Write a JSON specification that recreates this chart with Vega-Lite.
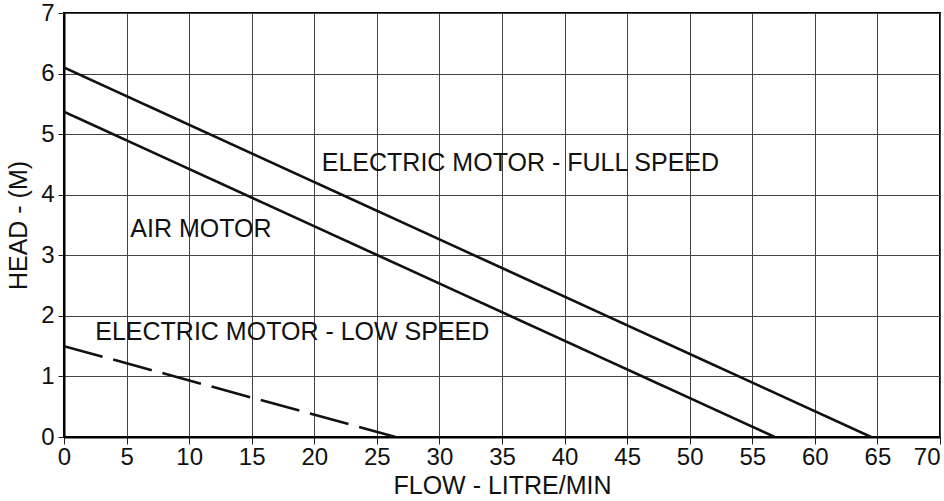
{
  "$schema": "https://vega.github.io/schema/vega-lite/v6.json",
  "width": 876,
  "height": 424,
  "autosize": {"type": "none"},
  "padding": {"left": 64, "top": 13, "right": 4, "bottom": 64},
  "background": "white",
  "config": {
    "font": "Liberation Sans",
    "view": {"stroke": "black", "strokeWidth": 2},
    "axis": {
      "labelFont": "Liberation Sans",
      "titleFont": "Liberation Sans",
      "labelColor": "#111",
      "titleColor": "#111",
      "titleFontWeight": "normal",
      "gridColor": "#444",
      "gridWidth": 1,
      "gridOpacity": 1,
      "domainColor": "black",
      "domainWidth": 2,
      "tickColor": "#222",
      "tickWidth": 1
    }
  },
  "datasets": {
    "curves": [
      {"series": "full", "flow": 0, "head": 6.1},
      {"series": "full", "flow": 64.5, "head": 0},
      {"series": "air", "flow": 0, "head": 5.37},
      {"series": "air", "flow": 56.8, "head": 0},
      {"series": "low", "flow": 0, "head": 1.5},
      {"series": "low", "flow": 26.5, "head": 0}
    ],
    "labels": [
      {"label": "ELECTRIC MOTOR - FULL SPEED", "flow": 20.6, "head": 4.52},
      {"label": "AIR MOTOR", "flow": 5.3, "head": 3.43},
      {"label": "ELECTRIC MOTOR - LOW SPEED", "flow": 2.5, "head": 1.73}
    ]
  },
  "layer": [
    {
      "data": {"name": "curves"},
      "mark": {"type": "line", "color": "#111", "strokeWidth": 2.6, "clip": true},
      "encoding": {
        "x": {
          "field": "flow", "type": "quantitative",
          "scale": {"domain": [0, 70], "nice": false},
          "axis": {
            "values": [0, 5, 10, 15, 20, 25, 30, 35, 40, 45, 50, 55, 60, 65, 70],
            "format": "d",
            "title": "FLOW - LITRE/MIN",
            "titleFontSize": 25,
            "titlePadding": 4,
            "labelFontSize": 24,
            "labelPadding": 1,
            "labelFlush": false,
            "labelOverlap": false,
            "labelAlign": {"condition": {"test": "datum.value == 70", "value": "right"}, "value": "center"},
            "tickSize": 7,
            "grid": true
          }
        },
        "y": {
          "field": "head", "type": "quantitative",
          "scale": {"domain": [0, 7], "nice": false},
          "axis": {
            "values": [0, 0.5, 1, 1.5, 2, 2.5, 3, 3.5, 4, 4.5, 5, 5.5, 6, 6.5, 7],
            "labelExpr": "datum.value % 1 == 0 ? format(datum.value, 'd') : ''",
            "gridOpacity": {"condition": {"test": "datum.value % 1 != 0", "value": 0}, "value": 1},
            "labelFlush": false,
            "title": "HEAD - (M)",
            "titleFontSize": 25,
            "titlePadding": 9,
            "labelFontSize": 24,
            "labelPadding": 4,
            "tickSize": 6,
            "grid": true
          }
        },
        "detail": {"field": "series"},
        "strokeDash": {
          "field": "series", "type": "nominal",
          "scale": {"domain": ["full", "air", "low"], "range": [[1, 0], [1, 0], [40, 11]]},
          "legend": null
        }
      }
    },
    {
      "data": {"name": "labels"},
      "mark": {"type": "text", "align": "left", "baseline": "middle", "fontSize": 25, "color": "#111", "font": "Liberation Sans"},
      "encoding": {
        "x": {"field": "flow", "type": "quantitative"},
        "y": {"field": "head", "type": "quantitative"},
        "text": {"field": "label"}
      }
    }
  ]
}
